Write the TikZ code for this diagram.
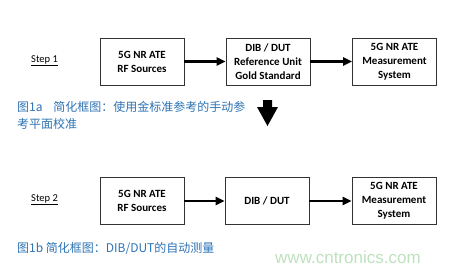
\documentclass[tikz,border=0pt]{standalone}
\usepackage{fontspec}
\setmainfont{Carlito}
\newfontfamily\cjk{Noto Sans CJK SC}
\newfontfamily\wmfont{Liberation Sans}
\usetikzlibrary{arrows.meta}
\definecolor{capblue}{HTML}{2E74B5}
\definecolor{wmgreen}{RGB}{190,225,190}
\begin{document}
\begin{tikzpicture}[x=1pt,y=-1pt,
  blk/.style={draw=black!80,line width=0.8pt,minimum width=84pt,minimum height=47pt,
    align=center,font=\bfseries\fontsize{11}{14}\selectfont,inner sep=0pt},
  conn/.style={line width=2.4pt,-{Triangle[length=9pt,width=8pt]}},
  steplbl/.style={font=\fontsize{10.5}{12}\selectfont,anchor=west,inner sep=0pt},
  capnote/.style={font=\cjk\fontsize{12}{17}\selectfont,text=capblue,anchor=north west,align=left,inner sep=0pt}]
\useasboundingbox[fill=white] (0,0) rectangle (458,271);
% row 1
\node[steplbl] (s1) at (31,61) {\underline{Step 1}};
\node[blk] (a1) at (142,61.5) {5G NR ATE\\RF Sources};
\node[blk] (b1) at (268,61.5) {DIB / DUT\\Reference Unit\\Gold Standard};
\node[blk] (c1) at (394.5,61.5) {5G NR ATE\\Measurement\\System};
\draw[conn] (a1) -- (b1);
\draw[conn] (b1) -- (c1);
\node[capnote] (cap1) at (17,101) {图1a\hspace{0.9em}简化框图：使用金标准参考的手动参\\考平面校准};
% down arrow
\fill[black] (263,100) -- (272,100) -- (272,107) -- (278,107) -- (267.5,126) -- (257,107) -- (263,107) -- cycle;
% row 2
\node[steplbl] (s2) at (31,200) {\underline{Step 2}};
\node[blk] (a2) at (142,201) {5G NR ATE\\RF Sources};
\node[blk] (b2) at (267,201) {DIB / DUT};
\node[blk] (c2) at (394,201) {5G NR ATE\\Measurement\\System};
\draw[conn] (a2) -- (b2);
\draw[conn] (b2) -- (c2);
\node[capnote] (cap2) at (17,242) {图1b 简化框图：DIB/DUT的自动测量};
\node[font=\wmfont\fontsize{17}{20}\selectfont,text=wmgreen,anchor=west,inner sep=0pt] (wm) at (275,257) {www.cntronics.com};
\end{tikzpicture}
\end{document}
